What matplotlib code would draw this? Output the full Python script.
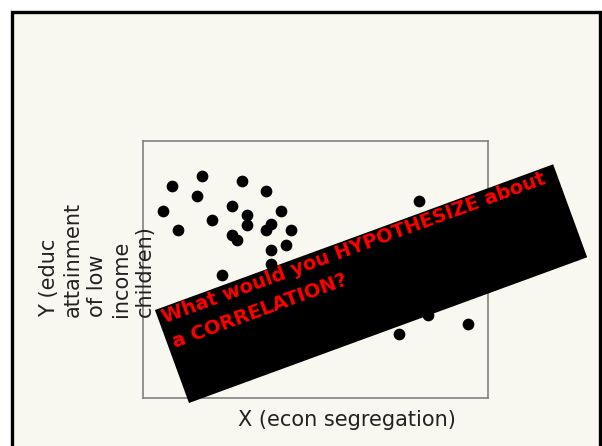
import matplotlib.pyplot as plt
from matplotlib.patches import Rectangle

# scatter values (arbitrary 0-10 units)
x_seg = [0.85, 1.72, 2.86, 3.56, 1.57, 0.57, 2.57, 3.01, 4.00, 2.00, 1.01, 3.01, 2.58,
         2.72, 3.72, 3.57, 4.28, 4.14, 3.72, 3.71, 2.28, 8.00, 9.43, 7.42, 8.27]
y_educ = [8.26, 8.65, 8.44, 8.05, 7.87, 7.29, 7.48, 7.12, 7.29, 6.91, 6.53, 6.72, 6.34,
          6.15, 6.76, 6.53, 6.53, 5.95, 5.77, 5.20, 4.80, 7.68, 2.88, 2.49, 3.23]

ylabel_lines = ["Y (educ", "attainment", "of low", "income", "children)"]
xlabel = "X (econ segregation)"
question = ["What would you HYPOTHESIZE about", "a CORRELATION?"]

W, H = 602, 446
cream = '#F8F8F0'

fig = plt.figure(figsize=(W / 100, H / 100), dpi=100, facecolor='white')

# slide background with black frame (no bottom edge visible)
fig.add_artist(Rectangle((11.5 / W, -0.1), 588 / W, (H - 12) / H + 0.1,
                         transform=fig.transFigure, facecolor=cream,
                         edgecolor='black', linewidth=2.4, zorder=-1))

ax = fig.add_axes([143 / W, 1 - 398 / H, 345 / W, 257 / H])
ax.set_facecolor(cream)
ax.scatter(x_seg, y_educ, s=55, color='black', zorder=3)
ax.set_xlim(0, 10)
ax.set_ylim(0, 10)
ax.set_xticks([])
ax.set_yticks([])
for sp in ax.spines.values():
    sp.set_color('#808080')
    sp.set_linewidth(1.2)

# y label, one rotated line per column
for i, line in enumerate(ylabel_lines):
    fig.text((55 + 24 * i) / W, (H - 317) / H, line, rotation=90,
             rotation_mode='anchor', ha='left', va='baseline',
             fontsize=15, color='#222222', family='DejaVu Sans')

fig.text(238 / W, (H - 426) / H, xlabel, ha='left', va='baseline',
         fontsize=15, color='#222222', family='DejaVu Sans')

# tilted black banner with the question
ang = 20.1
fig.add_artist(Rectangle((1.89, 0.43), 4.24, 0.99, angle=ang,
                         transform=fig.dpi_scale_trans, facecolor='black',
                         edgecolor='none', zorder=5))
starts = [(1.65, 1.23), (1.75, 0.98)]
for (tx, ty), line in zip(starts, question):
    fig.text(tx, ty, line, transform=fig.dpi_scale_trans, rotation=ang,
             rotation_mode='anchor', ha='left', va='baseline', fontsize=14,
             fontweight='bold', color='#FF0000', family='DejaVu Sans', zorder=6)

fig.savefig('out.png', dpi=100, facecolor=fig.get_facecolor())
